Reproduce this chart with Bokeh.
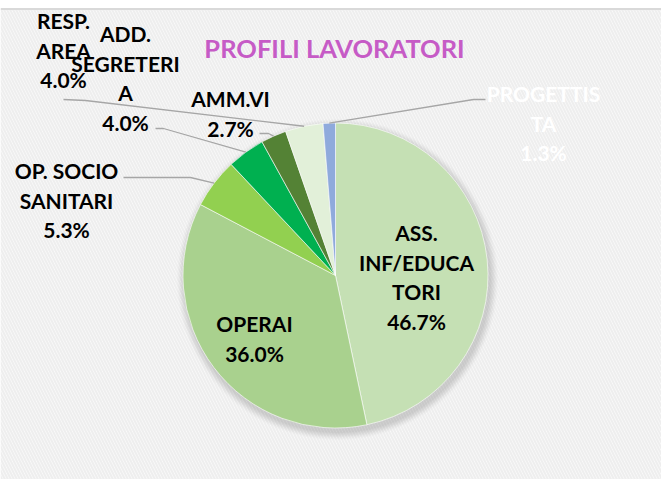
import math
from bokeh.plotting import figure
from bokeh.models import Range1d, ColumnDataSource
from bokeh.core.properties import value
from bokeh.embed import file_html
from bokeh.resources import INLINE

# ---------------- data ----------------
title = "PROFILI LAVORATORI"
categories = ["ASS. INF/EDUCATORI", "OPERAI", "OP. SOCIO SANITARI",
              "ADD. SEGRETERIA", "AMM.VI", "RESP. AREA", "PROGETTISTA"]
percent = [46.7, 36.0, 5.3, 4.0, 2.7, 4.0, 1.3]
# wrapped label lines as displayed
label_lines = [["ASS.", "INF/EDUCA", "TORI"], ["OPERAI"], ["OP. SOCIO", "SANITARI"],
               ["ADD.", "SEGRETERI", "A"], ["AMM.VI"], ["RESP.", "AREA"], ["PROGETTIS", "TA"]]
colors = ["#C5E0B4", "#A9D18E", "#92D050", "#00B050", "#548235", "#E2F0D9", "#8FAADC"]
label_colors = ["#000000"] * 6 + ["#FFFFFF"]

# ---------------- layout ----------------
W, H = 661, 479
CX, CY, R = 335, 275, 152.5
# label block: centre x, first line y (pixels from top)
label_pos = [(416, 232), (254, 323), (66, 170), (125, 33), (230, 98), (63, 20), (543, 93)]
LINE_H = 29.6
# leader lines: start and elbow points (None = no leader)
leaders = [None, None, [(123, 177), (190, 177)], [(155, 128), (163, 128)],
           [(259, 133), (268, 133)], [(63, 99), (85, 100)], [(485, 99), (473, 99)]]


def Y(y):
    return H - y


p = figure(width=W, height=H, x_range=Range1d(0, W), y_range=Range1d(0, H),
           output_backend="svg", toolbar_location=None, min_border=0,
           x_axis_location=None, y_axis_location=None)
p.outline_line_color = None
p.grid.visible = False
p.background_fill_color = "#FFFFFF"
p.border_fill_color = "#FFFFFF"

# patterned background below top rule
p.quad(left=0, right=W, bottom=0, top=Y(9), fill_color="#FAFAFA", line_color=None,
       hatch_pattern="left_diagonal_line", hatch_color="#EEEEEE", hatch_scale=6, hatch_weight=2)
p.line(x=[0, W], y=[Y(8.5), Y(8.5)], line_color="#D9D9D9", line_width=2)

# soft shadow
for i, a in enumerate([0.05, 0.05, 0.05, 0.04, 0.04, 0.03, 0.03, 0.02]):
    p.circle(x=CX + 2, y=Y(CY + 4), radius=R + 1 + i, fill_color="#707070",
             fill_alpha=a, line_color=None)

# pie wedges (start at 12 o'clock, clockwise)
total = sum(percent)
cum = 0.0
starts, ends, mids = [], [], []
for v in percent:
    c0 = cum / total
    cum += v
    c1 = cum / total
    starts.append(math.radians(90 - 360 * c1))
    ends.append(math.radians(90 - 360 * c0))
    mids.append(math.radians(90 - 360 * (c0 + c1) / 2))

src = ColumnDataSource(dict(start=starts, end=ends, color=colors, cat=categories))
p.wedge(x=CX, y=Y(CY), radius=R, start_angle="start", end_angle="end",
        fill_color="color", line_color="#FFFFFF", line_width=0.6, source=src)

# leader lines
for i, ld in enumerate(leaders):
    if ld is None:
        continue
    ex = CX + R * math.cos(mids[i])
    ey = CY - R * math.sin(mids[i])
    xs = [pt[0] for pt in ld] + [ex]
    ys = [Y(pt[1]) for pt in ld] + [Y(ey)]
    p.line(x=xs, y=ys, line_color="#A6A6A6", line_width=1.3)

# labels
tx, ty, tt, tc = [], [], [], []
for i, lines in enumerate(label_lines):
    x0, y0 = label_pos[i]
    all_lines = lines + [f"{percent[i]:.1f}%"]
    for k, s in enumerate(all_lines):
        tx.append(x0)
        ty.append(Y(y0 + k * LINE_H))
        tt.append(s)
        tc.append(label_colors[i])
p.text(x=tx, y=ty, text=tt, text_color=tc, text_align="center", text_baseline="middle",
       text_font=value("Lato"), text_font_style="bold", text_font_size="21px")

# title
p.text(x=[334], y=[Y(47)], text=[title], text_color="#C65BC6", text_align="center",
       text_baseline="middle", text_font=value("Lato"), text_font_style="bold",
       text_font_size="25.5px")

open("out.html", "w").write(file_html(p, INLINE))
